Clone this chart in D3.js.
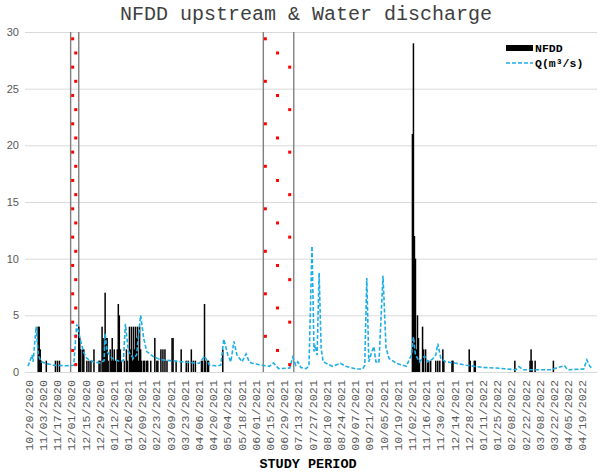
<!DOCTYPE html>
<html><head><meta charset="utf-8">
<script src="https://cdn.jsdelivr.net/npm/d3@7"></script>
<style>body{margin:0;background:#fff}</style></head>
<body><svg id="c" width="600" height="474"></svg>
<script>
const title = "NFDD upstream & Water discharge";
const xTitle = "STUDY PERIOD";
const legendLabels = ["NFDD", "Q(m³/s)"];
const yTicks = [0, 5, 10, 15, 20, 25, 30];
const tickLabels = ["10/20/2020","11/03/2020","11/17/2020","12/01/2020","12/15/2020","12/29/2020","01/12/2021","01/26/2021","02/09/2021","02/23/2021","03/09/2021","03/23/2021","04/06/2021","04/20/2021","05/04/2021","05/18/2021","06/01/2021","06/15/2021","06/29/2021","07/13/2021","07/27/2021","08/10/2021","08/24/2021","09/07/2021","09/21/2021","10/05/2021","10/19/2021","11/02/2021","11/16/2021","11/30/2021","12/14/2021","12/28/2021","01/11/2022","01/25/2022","02/08/2022","02/22/2022","03/08/2022","03/22/2022","04/05/2022","04/19/2022"];

const nfddDates = ["2020-10-28","2020-10-29","2020-10-30","2020-10-31","2020-11-05","2020-11-14","2020-11-16","2020-11-18","2020-12-07","2020-12-08","2020-12-09","2020-12-11","2020-12-12","2020-12-15","2020-12-17","2020-12-19","2020-12-22","2020-12-27","2020-12-28","2020-12-30","2020-12-31","2021-01-01","2021-01-02","2021-01-03","2021-01-04","2021-01-05","2021-01-07","2021-01-08","2021-01-09","2021-01-10","2021-01-11","2021-01-12","2021-01-14","2021-01-15","2021-01-16","2021-01-17","2021-01-18","2021-01-21","2021-01-23","2021-01-24","2021-01-26","2021-01-27","2021-01-28","2021-01-29","2021-01-30","2021-01-31","2021-02-01","2021-02-02","2021-02-03","2021-02-04","2021-02-05","2021-02-06","2021-02-07","2021-02-09","2021-02-10","2021-02-12","2021-02-13","2021-02-16","2021-02-20","2021-02-22","2021-02-23","2021-02-26","2021-02-28","2021-03-02","2021-03-04","2021-03-09","2021-03-10","2021-03-13","2021-03-18","2021-03-23","2021-03-25","2021-03-28","2021-03-30","2021-04-01","2021-04-07","2021-04-08","2021-04-10","2021-04-11","2021-04-13","2021-04-14","2021-04-28","2021-11-01","2021-11-02","2021-11-03","2021-11-04","2021-11-05","2021-11-06","2021-11-07","2021-11-08","2021-11-11","2021-11-12","2021-11-14","2021-11-16","2021-11-17","2021-11-19","2021-11-24","2021-11-26","2021-11-28","2021-12-01","2021-12-02","2021-12-10","2021-12-11","2021-12-27","2021-12-28","2022-01-01","2022-01-02","2022-02-10","2022-02-25","2022-02-26","2022-02-27","2022-03-02","2022-03-20"];
const nfddValues = [4,4,2,1,1,1,1,1,4,3,2,2,2,1,1,1,2,1,1,4,3,2,7,3,3,1,2,1,3,1,2,1,2,6,5,2,1,1,2,1,4,2,4,1,4,2,4,3,4,1,4,2,1,1,1,1,1,1,3,1,1,2,2,2,1,3,3,1,2,1,1,2,1,1,1,1,6,1,1,1,2,21,29,12,10,2,5,3,1,4,2,2,1,1,1,1,1,1,2,1,1,1,2,1,1,1,1,1,2,1,1,1];

const qDates = ["2020-10-18","2020-10-22","2020-10-23","2020-10-25","2020-10-26","2020-10-28","2020-10-31","2020-11-05","2020-11-12","2020-11-25","2020-12-02","2020-12-05","2020-12-09","2020-12-12","2020-12-15","2020-12-21","2020-12-28","2021-01-01","2021-01-02","2021-01-04","2021-01-09","2021-01-17","2021-01-20","2021-01-22","2021-01-25","2021-01-30","2021-02-02","2021-02-06","2021-02-09","2021-02-12","2021-02-18","2021-02-25","2021-03-07","2021-03-23","2021-04-05","2021-04-10","2021-04-15","2021-04-21","2021-04-26","2021-04-29","2021-05-03","2021-05-06","2021-05-09","2021-05-12","2021-05-17","2021-05-21","2021-05-24","2021-05-27","2021-06-06","2021-06-13","2021-06-17","2021-06-22","2021-07-03","2021-07-06","2021-07-09","2021-07-11","2021-07-14","2021-07-19","2021-07-22","2021-07-25","2021-07-27","2021-07-28","2021-07-30","2021-08-01","2021-08-03","2021-08-05","2021-08-14","2021-08-22","2021-08-27","2021-09-06","2021-09-13","2021-09-15","2021-09-17","2021-09-19","2021-09-22","2021-09-24","2021-09-26","2021-09-29","2021-10-03","2021-10-06","2021-10-09","2021-10-16","2021-10-26","2021-10-31","2021-11-02","2021-11-04","2021-11-08","2021-11-13","2021-11-16","2021-11-21","2021-11-24","2021-11-26","2021-11-29","2021-12-04","2021-12-14","2021-12-24","2022-01-10","2022-01-26","2022-02-11","2022-02-14","2022-02-18","2022-03-17","2022-03-31","2022-04-03","2022-04-19","2022-04-22","2022-04-25","2022-04-28"];
const qValues = [0.5,1.5,0.9,3.0,4.0,1.5,0.9,0.75,0.6,0.55,0.6,4.2,2.7,1.7,1.2,0.9,0.8,1.0,3.4,1.8,1.2,0.9,1.0,4.25,1.8,1.2,1.5,5.0,3.0,1.8,1.4,1.1,1.0,0.86,0.77,1.4,0.6,0.55,0.6,2.9,1.5,0.9,2.7,1.5,0.9,1.6,0.9,0.77,0.6,0.5,0.8,0.3,0.35,1.3,0.6,0.9,0.4,0.3,0.5,11.1,1.8,2.4,1.5,8.75,2.1,0.9,0.5,0.77,0.5,0.27,0.27,0.6,8.3,0.9,1.8,2.25,0.9,0.8,8.5,2.1,1.2,0.77,0.5,1.5,3.1,1.5,0.9,1.4,0.9,1.15,1.5,2.5,1.2,0.9,0.77,0.6,0.4,0.33,0.2,0.47,0.2,0.2,0.56,0.2,0.27,1.07,0.5,0.27];

const bandStarts = ["2020-11-29", "2021-06-07"];
const bandEnds = ["2020-12-07", "2021-07-07"];
const markerCols = [["2020-12-01", "2020-12-04"], ["2021-06-09", "2021-06-21", "2021-07-03"]];
const markerTop = 29.4, markerStep = 1.25, markerCount = 24;

const parse = d3.timeParse("%Y-%m-%d");
const parseTick = d3.timeParse("%m/%d/%Y");
const fmtTick = d3.timeFormat("%m/%d/%Y");

const svg = d3.select("#c");
const x = d3.scaleTime().domain([parse("2020-10-15"), parse("2022-05-02")]).range([25, 597]);
const y = d3.scaleLinear().domain([0, 30]).range([372, 32]);

// gridlines + y labels
const yAxis = d3.axisLeft(y).tickValues(yTicks).tickSize(-(597 - 25)).tickPadding(6);
const gy = svg.append("g").attr("transform", "translate(25,0)").call(yAxis);
gy.select(".domain").remove();
gy.selectAll(".tick line").attr("stroke", "#d9d9d9").attr("stroke-width", 1);
gy.selectAll(".tick text").attr("fill", "#595959").attr("font-family", "Liberation Sans, Arial, sans-serif").attr("font-size", 11).attr("x", -6);

// x axis
const xAxis = d3.axisBottom(x).tickValues(tickLabels.map(parseTick)).tickFormat(fmtTick).tickSize(0).tickPadding(0);
const gx = svg.append("g").attr("transform", "translate(0,372)").call(xAxis);
gx.select(".domain").attr("stroke", "#d9d9d9");
gx.selectAll(".tick text")
  .attr("fill", "#595959")
  .attr("font-family", "Liberation Mono, Courier New, monospace")
  .attr("font-size", 11.8)
  .attr("transform", "rotate(-90)")
  .attr("text-anchor", "end")
  .attr("x", -8).attr("y", -2).attr("dy", "0.35em");

// bands (vertical gray lines)
const bands = bandStarts.map((s, i) => ({ s: parse(s), e: parse(bandEnds[i]), cols: markerCols[i].map(parse) }));
bands.forEach(b => {
  [b.s, b.e].forEach(d => {
    svg.append("line").attr("x1", x(d)).attr("x2", x(d)).attr("y1", y(30)).attr("y2", y(0))
      .attr("stroke", "#808080").attr("stroke-width", 1.4);
  });
});

// bars
const bars = nfddDates.map((d, i) => ({ d: parse(d), v: nfddValues[i] }));
svg.append("g").selectAll("rect").data(bars).join("rect")
  .attr("x", d => x(d.d) - 0.75).attr("width", 1.5)
  .attr("y", d => y(d.v)).attr("height", d => y(0) - y(d.v))
  .attr("fill", "#000");

// line
const qData = qDates.map((d, i) => ({ d: parse(d), v: qValues[i] }));
svg.append("path").datum(qData)
  .attr("d", d3.line().x(d => x(d.d)).y(d => y(d.v)))
  .attr("fill", "none").attr("stroke", "#1DAEE6").attr("stroke-width", 1.6)
  .attr("stroke-dasharray", "4,2");

// red markers
bands.forEach(b => {
  const pts = d3.range(markerCount).map(k => ({ d: b.cols[k % b.cols.length], v: markerTop - markerStep * k }));
  svg.append("g").selectAll("rect").data(pts).join("rect")
    .attr("x", p => x(p.d) - 1.5).attr("y", p => y(p.v) - 1.5)
    .attr("width", 3).attr("height", 3).attr("fill", "#ff0000");
});

// title
svg.append("text").attr("x", 306).attr("y", 20).attr("text-anchor", "middle")
  .attr("font-family", "Liberation Mono, Courier New, monospace").attr("font-size", 20)
  .attr("fill", "#404040").text(title);

// x title
svg.append("text").attr("x", 308).attr("y", 468).attr("text-anchor", "middle")
  .attr("font-family", "Liberation Mono, Courier New, monospace").attr("font-size", 13.5)
  .attr("font-weight", "bold").attr("fill", "#000").text(xTitle);

// legend
const lg = svg.append("g");
lg.append("rect").attr("x", 506).attr("y", 45).attr("width", 27).attr("height", 6).attr("fill", "#000");
lg.append("line").attr("x1", 506).attr("x2", 533).attr("y1", 63).attr("y2", 63)
  .attr("stroke", "#1DAEE6").attr("stroke-width", 1.6).attr("stroke-dasharray", "4,2");
lg.selectAll("text").data(legendLabels).join("text")
  .attr("x", 535).attr("y", (d, i) => 52 + i * 15)
  .attr("font-family", "Liberation Mono, Courier New, monospace").attr("font-size", 11.5)
  .attr("font-weight", "bold").attr("fill", "#000").text(d => d);
</script></body></html>
